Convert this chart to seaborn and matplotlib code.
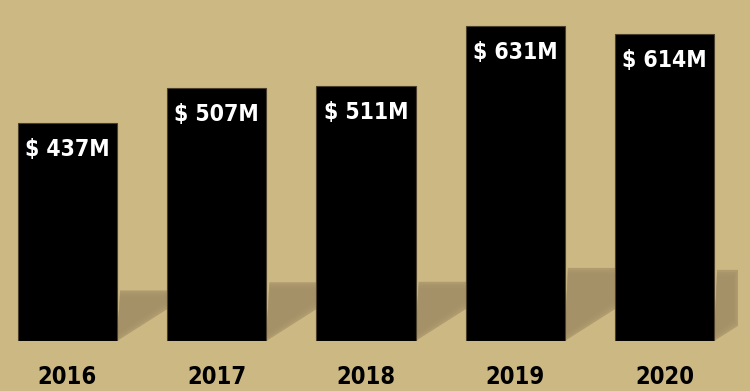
import numpy as np
import pandas as pd
import matplotlib
matplotlib.use("Agg")
import matplotlib.pyplot as plt
import seaborn as sns

# data
years = ["2016", "2017", "2018", "2019", "2020"]
revenue = [437, 507, 511, 631, 614]   # millions of dollars

df = pd.DataFrame({"year": years, "revenue": revenue})

bg = "#ccb883"
shadow_col = "#a38f66"
bar_w = 0.665

sns.set_style("white")
plt.rcParams["font.family"] = ["DejaVu Sans"]
plt.rcParams["font.stretch"] = "condensed"

fig = plt.figure(figsize=(7.5, 3.91), dpi=100)
fig.patch.set_facecolor(bg)
ax = fig.add_axes([0, 50 / 391, 1, 341 / 391])
ax.set_facecolor(bg)

ax = sns.barplot(data=df, x="year", y="revenue", color="black", width=bar_w,
                 saturation=1, edgecolor="#4a3f2a", linewidth=0.8, ax=ax, zorder=2)

ax.set_xlim(-0.452, 4.573)
ax.set_ylim(0, 683)

# soft cast shadow behind each bar (scaled from bar height)
for i, v in enumerate(df["revenue"]):
    x0 = i + bar_w / 2
    top = 0.232 * v
    L = 0.5 if i < len(df) - 1 else 0.16
    rise = 190 * L
    for k, a in zip(range(4), [0.3, 0.35, 0.4, 0.7]):
        g = (3 - k) * 4
        xs = [x0, x0 + L - 0.01 * (3 - k), x0 + L - 0.01 * (3 - k), x0 + 0.02]
        ys = [0 + g, rise + g, top - g, top - g]
        ax.fill(xs, ys, color=shadow_col, alpha=a, lw=0, zorder=1)

for i, v in enumerate(df["revenue"]):
    ax.annotate(f"$ {v}M", xy=(i, v), xytext=(0, -19), textcoords="offset points",
                ha="center", va="center", color="white", fontsize=16.5,
                fontweight="bold", fontstretch="condensed", zorder=3)

ax.set_xlabel("")
ax.set_ylabel("")
ax.set_yticks([])
ax.tick_params(axis="x", length=0, pad=17, labelsize=17)
for lab in ax.get_xticklabels():
    lab.set_fontweight("bold")
    lab.set_fontstretch("condensed")
    lab.set_color("black")
sns.despine(ax=ax, left=True, bottom=True)

fig.savefig("out.png", dpi=100, facecolor=bg)
